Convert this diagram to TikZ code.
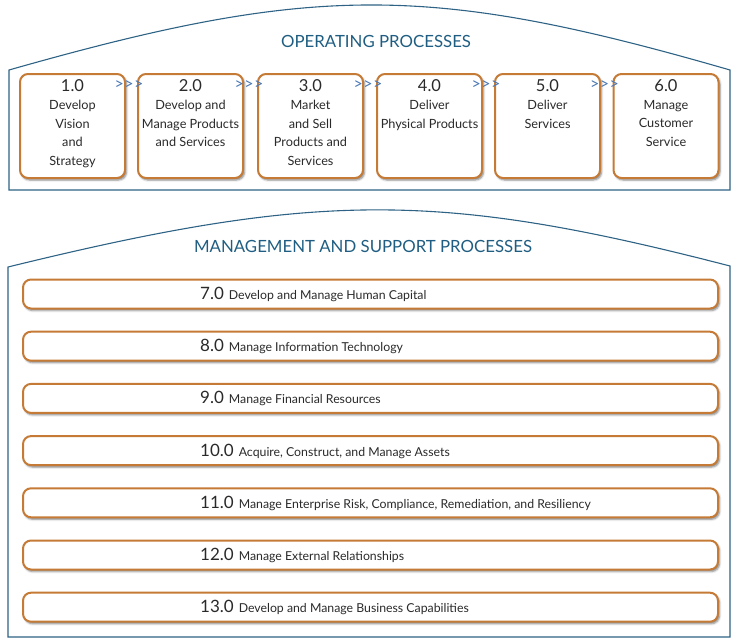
\documentclass[tikz,border=0pt]{standalone}
\usepackage{fontspec}
\setmainfont{Lato}
\usetikzlibrary{shadows.blur}
\definecolor{procorange}{HTML}{C57A35}
\definecolor{frameblue}{HTML}{2E6385}
\definecolor{titleblue}{HTML}{1F5E82}
\definecolor{chevblue}{HTML}{4A78B5}
\definecolor{textgray}{HTML}{2A2A2A}
\tikzset{
  frame/.style={draw=frameblue, line width=1.1pt},
  proctitle/.style={text=titleblue, font=\fontsize{16.8}{20}\selectfont, inner sep=0pt},
  procbox/.style={draw=procorange, line width=2pt, rounded corners=8pt, fill=white,
    minimum width=105pt, minimum height=104pt, inner sep=0pt,
    blur shadow={shadow xshift=1.5pt, shadow yshift=-2pt, shadow blur radius=2pt, shadow opacity=50}},
  supbar/.style={draw=procorange, line width=2pt, rounded corners=8pt, fill=white,
    minimum width=695pt, minimum height=29pt, inner sep=0pt,
    blur shadow={shadow xshift=1.5pt, shadow yshift=-2pt, shadow blur radius=2pt, shadow opacity=50}},
  boxnum/.style={text=textgray, font=\fontsize{16.5}{18}\selectfont, inner sep=0pt},
  boxbody/.style={text=textgray, font=\fontsize{12.7}{18.5}\selectfont, align=center, inner sep=0pt, anchor=north},
  barlabel/.style={text=textgray, inner sep=0pt, anchor=base west},
  chev/.style={text=chevblue, font=\fontsize{16}{16}\selectfont, inner sep=0pt}
}
\newcommand{\barnum}[1]{{\fontsize{17}{18}\selectfont #1}\hspace{5pt}}
\newcommand{\bardesc}[1]{{\fontsize{12.3}{14}\selectfont #1}}
\newcommand{\chevs}{>\hspace{0.5pt}>\hspace{0.5pt}>}
\begin{document}
\begin{tikzpicture}[x=1pt,y=-1pt]
\useasboundingbox (0,0) rectangle (741,643);
% containers
\draw[frame] (9,70) .. controls (314,-16.7) and (430,-16.7) .. (730,70) -- (730,190) -- (9,190) -- cycle;
\draw[frame] (8,267) .. controls (318,191) and (440,191) .. (730,266) -- (730,637) -- (8,637) -- cycle;
% titles
\node[proctitle] (t1) at (376,41) {OPERATING PROCESSES};
\node[proctitle] (t2) at (363,246) {MANAGEMENT AND SUPPORT PROCESSES};
% operating process boxes
\foreach \i/\x in {1/72.5, 2/190.5, 3/310.5, 4/429.5, 5/547.5, 6/666}{
  \node[procbox] (p\i) at (\x,126) {};
}
\node[boxnum] (n1) at (p1.north |- 0,86) {1.0};
\node[boxnum] (n2) at (p2.north |- 0,86) {2.0};
\node[boxnum] (n3) at (p3.north |- 0,86) {3.0};
\node[boxnum] (n4) at (p4.north |- 0,86) {4.0};
\node[boxnum] (n5) at (p5.north |- 0,86) {5.0};
\node[boxnum] (n6) at (p6.north |- 0,86) {6.0};
\node[boxbody] (b1) at (p1.north |- 0,100) {Develop\\Vision\\and\\Strategy};
\node[boxbody] (b2) at (p2.north |- 0,100) {Develop and\\Manage Products\\and Services};
\node[boxbody] (b3) at (p3.north |- 0,100) {Market\\and Sell\\Products and\\Services};
\node[boxbody] (b4) at (p4.north |- 0,100) {Deliver\\Physical Products};
\node[boxbody] (b5) at (p5.north |- 0,100) {Deliver\\Services};
\node[boxbody] (b6) at (p6.north |- 0,100) {Manage\\Customer\\Service};
% chevrons
\foreach \j in {2,...,6}{
  \node[chev] (c\j) at ([xshift=-8pt]p\j.west |- 0,85) {\chevs};
}
% support bars
\foreach \k/\y in {7/294, 8/346.2, 9/398.4, 10/450.6, 11/502.8, 12/555, 13/607.2}{
  \node[supbar] (s\k) at (370.5,\y) {};
}
\node[barlabel] (l7)  at (200,299.5) {\barnum{7.0}\bardesc{Develop and Manage Human Capital}};
\node[barlabel] (l8)  at (200,351.7) {\barnum{8.0}\bardesc{Manage Information Technology}};
\node[barlabel] (l9)  at (200,403.9) {\barnum{9.0}\bardesc{Manage Financial Resources}};
\node[barlabel] (l10) at (200,456.1) {\barnum{10.0}\bardesc{Acquire, Construct, and Manage Assets}};
\node[barlabel] (l11) at (200,508.3) {\barnum{11.0}\bardesc{Manage Enterprise Risk, Compliance, Remediation, and Resiliency}};
\node[barlabel] (l12) at (200,560.5) {\barnum{12.0}\bardesc{Manage External Relationships}};
\node[barlabel] (l13) at (200,612.7) {\barnum{13.0}\bardesc{Develop and Manage Business Capabilities}};
\end{tikzpicture}
\end{document}
